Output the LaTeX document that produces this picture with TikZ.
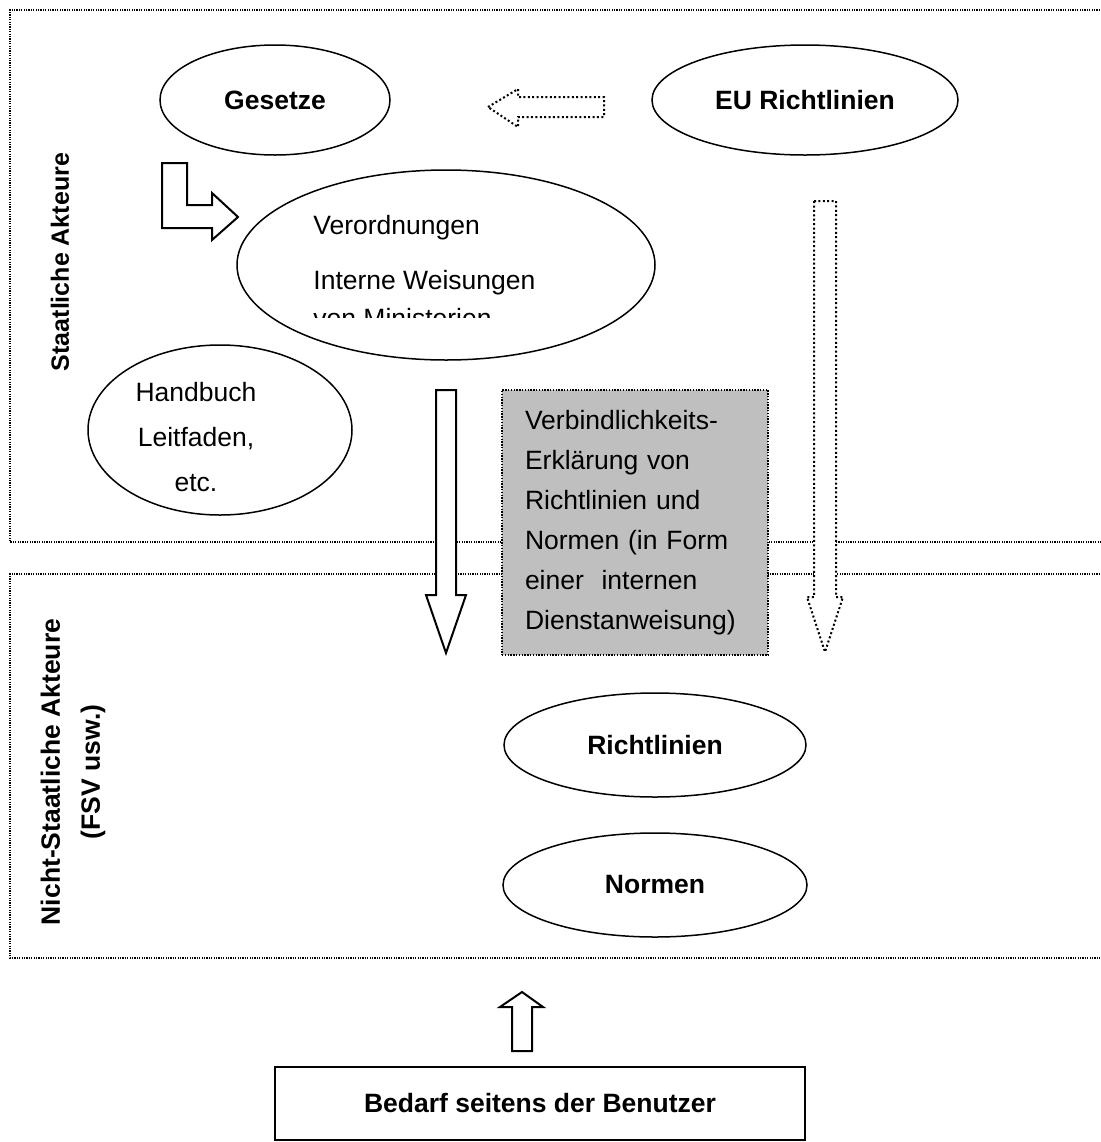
\documentclass[tikz,border=0pt]{standalone}
\usepackage{fontspec}
\setmainfont{Liberation Sans}
\usetikzlibrary{shapes.geometric,positioning}

\begin{document}
\begin{tikzpicture}[
  x=0.5pt, y=-0.5pt,
  every node/.style={font=\fontsize{13.25}{16}\selectfont},
  ell/.style={draw=black, ellipse, line width=0.75pt, inner sep=0pt},
  boldtext/.style={font=\bfseries\fontsize{13.25}{16}\selectfont},
  region/.style={draw=black, line width=0.6pt, dash pattern=on 0.6pt off 0.6pt},
  solidarrow/.style={draw=black, fill=white, line width=1pt, line join=miter},
  dotarrow/.style={draw=black, fill=white, line width=1pt, dash pattern=on 1pt off 1.2pt},
  graybox/.style={draw=black, fill=black!25, line width=0.7pt, dash pattern=on 0.7pt off 0.7pt,
    minimum width=133pt, minimum height=132.5pt, text width=110pt, inner xsep=11.5pt,
    align=left, font=\fontsize{13.25}{20}\selectfont},
  userbox/.style={draw=black, line width=0.75pt, minimum width=265pt, minimum height=36.5pt},
  sidelabel/.style={rotate=90, align=center, font=\bfseries\fontsize{13.25}{20}\selectfont}
]
  \useasboundingbox (0,0) rectangle (1100,1142);

  % Regions: state and non-state actors
  \draw[region] (1100,10) -- (10,10) -- (10,542) -- (1100,542);
  \draw[region] (1100,574) -- (10,574) -- (10,958) -- (1100,958);
  \node[sidelabel, font=\bfseries\fontsize{12.5}{20}\selectfont] (staat) at (60,262) {Staatliche Akteure};
  \node[sidelabel] (nichtstaat) at (73,772) {Nicht-Staatliche Akteure\\(FSV usw.)};

  % State level
  \node[ell, boldtext, minimum width=115pt, minimum height=55pt] (gesetze) at (275,100) {Gesetze};
  \node[ell, boldtext, minimum width=153pt, minimum height=55pt] (eu) at (805,100) {EU Richtlinien};
  \node[ell, minimum width=209pt, minimum height=95pt] (verord) at (446,265) {};
  \begin{scope}
    \clip (300,150) rectangle (660,317);
    \node[anchor=base west, inner sep=0pt] (vo1) at (313,234) {Verordnungen};
    \node[anchor=base west, inner sep=0pt] (vo2) at (313,289) {Interne Weisungen};
    \node[anchor=base west, inner sep=0pt] (vo3) at (313,327) {von Ministerien};
  \end{scope}
  \node[ell, minimum width=132pt, minimum height=85pt] (handbuch) at (220,430) {};
  \node[align=center, font=\fontsize{13.25}{22.5}\selectfont] (hbtext) at (196,437)
    {Handbuch\\Leitfaden,\\etc.};

  % Block arrows
  \draw[dotarrow] (488,107) -- (518,89) -- (518,97) -- (604,97) -- (604,117)
    -- (518,117) -- (518,127) -- cycle;
  \draw[solidarrow] (162,163) -- (187,163) -- (187,205) -- (212,205) -- (212,193)
    -- (238,217) -- (212,240) -- (212,228) -- (162,228) -- cycle;
  \draw[solidarrow] (436,390) -- (456,390) -- (456,595) -- (466,595) -- (446,653)
    -- (426,595) -- (436,595) -- cycle;
  \draw[dotarrow] (814,201) -- (836,201) -- (836,597) -- (843,597) -- (825,652)
    -- (807,597) -- (814,597) -- cycle;

  % Declaration of binding force
  \node[graybox] (verbindlich) at (635,522.5)
    {Verbindlichkeits-\\Erklärung von\\Richtlinien und\\Normen (in Form\\einer\ \ internen\\Dienstanweisung)};

  % Non-state level
  \node[ell, boldtext, minimum width=151pt, minimum height=52pt] (richtlinien) at (655,745) {Richtlinien};
  \node[ell, boldtext, minimum width=152pt, minimum height=52pt] (normen) at (655,885) {Normen};

  % User demand
  \draw[solidarrow] (512,1051) -- (532,1051) -- (532,1007) -- (543,1007) -- (522,992)
    -- (500,1007) -- (512,1007) -- cycle;
  \node[userbox, boldtext] (bedarf) at (540,1103.5) {Bedarf seitens der Benutzer};
\end{tikzpicture}
\end{document}
